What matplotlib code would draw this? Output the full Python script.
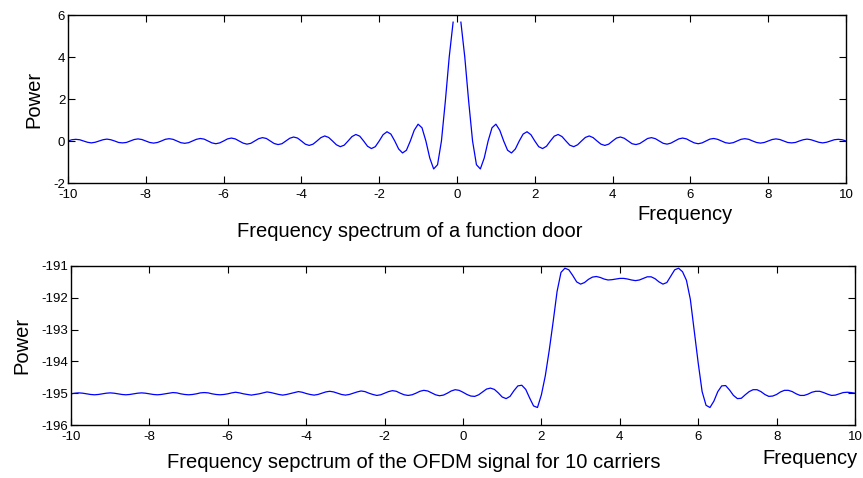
#!/usr/bin/env python3
"""
Frequency spectra: a rectangular pulse ("function door") and an OFDM signal
with 10 carriers. Values read off the reference figure.
"""

import numpy as np
import matplotlib
matplotlib.use('Agg')
import matplotlib.pyplot as plt

# --- data -------------------------------------------------------------------

# frequency axis shared by both spectra (-10 .. 10, step 0.1)
freq = np.round(np.linspace(-10, 10, 201), 1)

# spectrum of the door function (undefined at f = 0, hence the gap)
door_power = [
    0.00, 0.06, 0.08, 0.06, 0.00, -0.06, -0.09, -0.06, 0.00, 0.06,
    0.09, 0.06, 0.00, -0.07, -0.09, -0.07, 0.00, 0.07, 0.10, 0.07,
    0.00, -0.07, -0.10, -0.07, 0.00, 0.08, 0.11, 0.08, 0.00, -0.08,
    -0.11, -0.08, 0.00, 0.08, 0.12, 0.09, 0.00, -0.09, -0.13, -0.09,
    0.00, 0.10, 0.14, 0.10, 0.00, -0.10, -0.15, -0.11, 0.00, 0.11,
    0.16, 0.12, 0.00, -0.12, -0.17, -0.13, 0.00, 0.13, 0.19, 0.14,
    0.00, -0.15, -0.21, -0.15, 0.00, 0.16, 0.24, 0.17, 0.00, -0.18,
    -0.27, -0.20, 0.00, 0.21, 0.31, 0.23, 0.00, -0.25, -0.36, -0.27,
    0.00, 0.30, 0.44, 0.33, 0.00, -0.38, -0.57, -0.44, 0.00, 0.51,
    0.80, 0.63, 0.00, -0.81, -1.33, -1.13, 0.00, 1.89, 4.00, 5.66,
    np.nan,
    5.66, 4.00, 1.89, 0.00, -1.13, -1.33, -0.81, 0.00, 0.63, 0.80,
    0.51, 0.00, -0.44, -0.57, -0.38, 0.00, 0.33, 0.44, 0.30, 0.00,
    -0.27, -0.36, -0.25, 0.00, 0.23, 0.31, 0.21, 0.00, -0.20, -0.27,
    -0.18, 0.00, 0.17, 0.24, 0.16, 0.00, -0.15, -0.21, -0.15, 0.00,
    0.14, 0.19, 0.13, 0.00, -0.13, -0.17, -0.12, 0.00, 0.12, 0.16,
    0.11, 0.00, -0.11, -0.15, -0.10, 0.00, 0.10, 0.14, 0.10, 0.00,
    -0.09, -0.13, -0.09, 0.00, 0.09, 0.12, 0.08, 0.00, -0.08, -0.11,
    -0.08, 0.00, 0.08, 0.11, 0.08, 0.00, -0.07, -0.10, -0.07, 0.00,
    0.07, 0.10, 0.07, 0.00, -0.07, -0.09, -0.07, 0.00, 0.06, 0.09,
    0.06, 0.00, -0.06, -0.09, -0.06, 0.00, 0.06, 0.08, 0.06, 0.00,
]

# spectrum of the OFDM signal, 10 carriers
ofdm_power = [
    -195.02, -195.00, -194.99, -195.00, -195.02, -195.04, -195.05, -195.04, -195.02, -195.00,
    -194.99, -195.00, -195.02, -195.04, -195.05, -195.04, -195.02, -195.00, -194.99, -195.00,
    -195.02, -195.04, -195.05, -195.04, -195.02, -195.00, -194.98, -194.99, -195.02, -195.04,
    -195.05, -195.04, -195.02, -194.99, -194.98, -194.99, -195.02, -195.04, -195.05, -195.04,
    -195.02, -194.99, -194.97, -194.99, -195.02, -195.04, -195.06, -195.04, -195.02, -194.99,
    -194.96, -194.98, -195.01, -195.04, -195.06, -195.04, -195.01, -194.98, -194.95, -194.97,
    -195.01, -195.04, -195.06, -195.04, -195.00, -194.96, -194.94, -194.96, -195.00, -195.04,
    -195.06, -195.04, -195.00, -194.96, -194.93, -194.95, -195.00, -195.04, -195.07, -195.05,
    -195.00, -194.95, -194.92, -194.94, -195.00, -195.05, -195.07, -195.05, -195.00, -194.94,
    -194.91, -194.93, -194.99, -195.05, -195.08, -195.06, -195.00, -194.93, -194.89, -194.91,
    -194.97, -195.04, -195.09, -195.10, -195.05, -194.96, -194.87, -194.84, -194.88, -194.99,
    -195.12, -195.17, -195.10, -194.92, -194.77, -194.75, -194.88, -195.15, -195.40, -195.45,
    -195.05, -194.45, -193.65, -192.75, -191.80, -191.20, -191.07, -191.12, -191.30, -191.50,
    -191.57, -191.52, -191.42, -191.35, -191.33, -191.36, -191.41, -191.44, -191.43, -191.41,
    -191.39, -191.39, -191.41, -191.44, -191.46, -191.44, -191.39, -191.34, -191.34, -191.40,
    -191.50, -191.57, -191.52, -191.32, -191.12, -191.07, -191.18, -191.45, -192.05, -193.05,
    -194.05, -194.95, -195.38, -195.45, -195.25, -194.95, -194.77, -194.76, -194.90, -195.07,
    -195.17, -195.16, -195.05, -194.95, -194.89, -194.89, -194.95, -195.04, -195.10, -195.09,
    -195.04, -194.96, -194.91, -194.91, -194.95, -195.02, -195.07, -195.07, -195.03, -194.97,
    -194.94, -194.94, -194.98, -195.03, -195.07, -195.06, -195.02, -194.98, -194.97, -194.98,
    -195.00,
]

x_ticks = [-10, -8, -6, -4, -2, 0, 2, 4, 6, 8, 10]
door_yticks = [-2, 0, 2, 4, 6]
ofdm_yticks = [-196, -195, -194, -193, -192, -191]

W, H = 863, 478


def style_axes(ax):
    """MATLAB-like box: ticks inside, on all four sides."""
    ax.tick_params(direction='in', top=True, right=True, length=5,
                   width=0.8, labelsize=9.5)
    ax.tick_params(axis='x', pad=4)
    ax.tick_params(axis='y', pad=2)
    for spine in ax.spines.values():
        spine.set_linewidth(1.0)


def main():
    plt.rcParams['font.family'] = ['Liberation Sans', 'DejaVu Sans']
    plt.rcParams['axes.unicode_minus'] = False

    fig = plt.figure(figsize=(W / 100, H / 100), dpi=100)
    fig.patch.set_facecolor('white')

    # Door function spectrum
    ax1 = fig.add_axes([68 / W, 1 - 183 / H, (846 - 68) / W, (183 - 15) / H])
    ax1.plot(freq, door_power, color='#0000ff', linewidth=0.9)
    ax1.set_xlim(-10, 10)
    ax1.set_ylim(-2, 6)
    ax1.set_xticks(x_ticks)
    ax1.set_yticks(door_yticks)
    style_axes(ax1)
    ax1.set_ylabel('Power', fontsize=14.5, labelpad=7)

    # OFDM spectrum
    ax2 = fig.add_axes([71 / W, 1 - 425 / H, (855 - 71) / W, (425 - 266) / H])
    ax2.plot(freq, ofdm_power, color='#0000ff', linewidth=0.9)
    ax2.set_xlim(-10, 10)
    ax2.set_ylim(-196, -191)
    ax2.set_xticks(x_ticks)
    ax2.set_yticks(ofdm_yticks)
    style_axes(ax2)
    ax2.set_ylabel('Power', fontsize=14.5, labelpad=7)

    # free-standing labels, positioned in figure pixels
    fig.text(685 / W, 1 - 215 / H, 'Frequency', fontsize=14.5,
             ha='center', va='center')
    fig.text(410 / W, 1 - 232 / H, 'Frequency spectrum of a function door',
             fontsize=14.5, ha='center', va='center')
    fig.text(810 / W, 1 - 459 / H, 'Frequency', fontsize=14.5,
             ha='center', va='center')
    fig.text(414 / W, 1 - 463 / H,
             'Frequency sepctrum of the OFDM signal for 10 carriers',
             fontsize=14.5, ha='center', va='center')

    fig.savefig('out.png', dpi=100)


if __name__ == '__main__':
    main()
